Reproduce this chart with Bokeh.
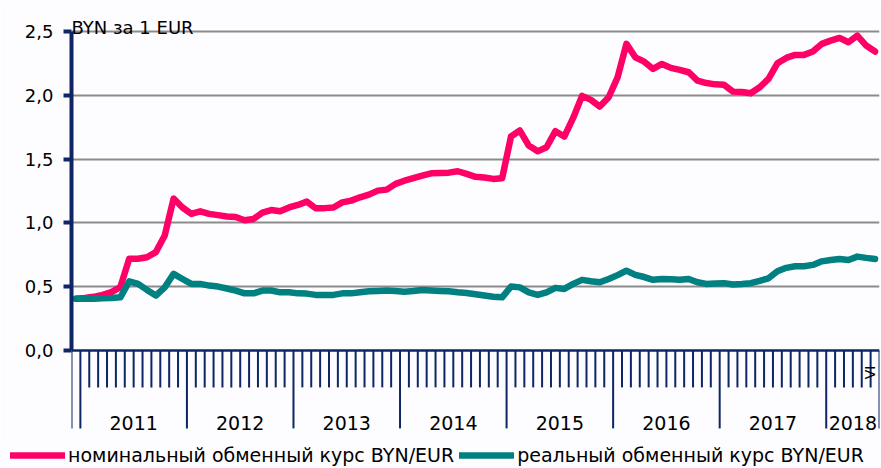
import math
from bokeh.plotting import figure
from bokeh.layouts import column
from bokeh.models import Range1d, FixedTicker, CustomJSTickFormatter, Legend, LegendItem, Label
from bokeh.core.properties import value
from bokeh.embed import file_html
from bokeh.resources import INLINE

# ---------------- data ----------------
start_year, start_month = 2010, 12
years = [2011, 2012, 2013, 2014, 2015, 2016, 2017, 2018]
roman = ["I", "II", "III", "IV", "V", "VI", "VII", "VIII", "IX", "X", "XI", "XII"]
y_ticks = [0.0, 0.5, 1.0, 1.5, 2.0, 2.5]
unit_label = "BYN за 1 EUR"
name_nominal = "номинальный обменный курс BYN/EUR"
name_real = "реальный обменный курс BYN/EUR"

nominal = [
    0.405, 0.41, 0.42, 0.435, 0.457, 0.496, 0.718, 0.718, 0.73, 0.77, 0.90, 1.19, 1.12,
    1.07, 1.09, 1.07, 1.06, 1.05, 1.045, 1.02, 1.03, 1.08, 1.10, 1.09, 1.12, 1.14,
    1.166, 1.114, 1.115, 1.12, 1.16, 1.174, 1.20, 1.221, 1.252, 1.26, 1.305,
    1.33, 1.35, 1.37, 1.388, 1.39, 1.393, 1.404, 1.383, 1.36, 1.355, 1.344, 1.349,
    1.676, 1.723, 1.605, 1.56, 1.592, 1.718, 1.676, 1.822, 1.995, 1.963, 1.911, 1.984,
    2.14, 2.402, 2.297, 2.263, 2.206, 2.245, 2.214, 2.198, 2.18, 2.115, 2.095, 2.085,
    2.081, 2.028, 2.025, 2.015, 2.062, 2.128, 2.25, 2.292, 2.316, 2.316, 2.342, 2.402,
    2.428, 2.449, 2.415, 2.467, 2.389, 2.342,
]
real = [
    0.404, 0.404, 0.404, 0.408, 0.411, 0.416, 0.541, 0.521, 0.474, 0.43, 0.494, 0.60, 0.56,
    0.521, 0.521, 0.508, 0.50, 0.485, 0.469, 0.447, 0.447, 0.469, 0.469, 0.455, 0.455, 0.447,
    0.445, 0.435, 0.435, 0.435, 0.447, 0.447, 0.455, 0.463, 0.466, 0.469, 0.465,
    0.46, 0.465, 0.474, 0.47, 0.466, 0.463, 0.455, 0.45, 0.44, 0.43, 0.42, 0.416,
    0.50, 0.494, 0.455, 0.435, 0.455, 0.49, 0.482, 0.521, 0.553, 0.542, 0.534, 0.56,
    0.59, 0.625, 0.592, 0.575, 0.553, 0.56, 0.557, 0.553, 0.56, 0.534, 0.521, 0.524,
    0.527, 0.516, 0.52, 0.527, 0.545, 0.565, 0.62, 0.647, 0.659, 0.659, 0.67, 0.698,
    0.709, 0.717, 0.709, 0.735, 0.725, 0.717,
]

n = len(nominal)
months = [((start_month - 1 + k) % 12) + 1 for k in range(n)]
month_year = [start_year + (start_month - 1 + k) // 12 for k in range(n)]
xc = [k + 0.5 for k in range(n)]

# ---------------- styling ----------------
FONT = "DejaVu Sans"
NAVY = "#0E2566"
PINK = "#FF0066"
TEAL = "#008080"
GRID = "#8C8C8C"
BG = "#FDFDFF"
W = 881
MAIN_H = 444
LEG_H = 24
PX_PER_UNIT = 127.6
ZERO_Y = 349.9
Y_TOP = ZERO_Y / PX_PER_UNIT
Y_BOT = -(MAIN_H - ZERO_Y) / PX_PER_UNIT

p = figure(width=W, height=MAIN_H, output_backend="svg", toolbar_location=None,
           title=None, x_axis_type=None,
           x_range=Range1d(0, n), y_range=Range1d(Y_BOT, Y_TOP),
           min_border_left=71, min_border_right=2, min_border_top=0, min_border_bottom=0)
p.frame_align = False
p.outline_line_color = None
p.background_fill_color = BG
p.border_fill_color = BG

# y axis
ax = p.yaxis[0]
ax.ticker = FixedTicker(ticks=y_ticks)
ax.bounds = (y_ticks[0], y_ticks[-1])
ax.formatter = CustomJSTickFormatter(code="return tick.toFixed(1).replace('.', ',');")
ax.axis_line_color = NAVY
ax.axis_line_width = 4
ax.major_tick_line_color = NAVY
ax.major_tick_line_width = 4
ax.major_tick_out = 8
ax.major_tick_in = 0
ax.minor_tick_line_color = None
ax.major_label_text_font = FONT
ax.major_label_text_font_size = "18px"
ax.major_label_text_color = "#000000"
ax.major_label_standoff = 10

p.xgrid.visible = False
p.ygrid.ticker = FixedTicker(ticks=y_ticks[1:])
p.ygrid.grid_line_color = GRID
p.ygrid.grid_line_width = 2

# category axis drawn from the month list
short_len = 37 / PX_PER_UNIT
long_len = 78 / PX_PER_UNIT
long_b = [0] + [k for k in range(n) if months[k] == 1] + [n]
short_b = [b for b in range(n + 1) if b not in long_b]
p.segment(x0=short_b, y0=[0] * len(short_b), x1=short_b, y1=[-short_len] * len(short_b),
          line_color=NAVY, line_width=2)
p.segment(x0=long_b, y0=[0] * len(long_b), x1=long_b, y1=[-long_len] * len(long_b),
          line_color=NAVY, line_width=2)
p.segment(x0=[0], y0=[0], x1=[n], y1=[0], line_color=NAVY, line_width=2.5)

year_x = []
for yv in years:
    idx = [k for k in range(n) if month_year[k] == yv]
    year_x.append((idx[0] + idx[-1] + 1) / 2)
p.text(x=year_x, y=[-73 / PX_PER_UNIT] * len(years), text=[str(y) for y in years],
       text_font=value(FONT), text_font_size="19px", text_align="center",
       text_baseline="alphabetic", text_color="#000000")

p.text(x=[xc[-1]], y=[-22 / PX_PER_UNIT], text=[roman[months[-1] - 1]], angle=math.pi / 2,
       x_offset=-5, text_font=value(FONT), text_font_size="14px", text_align="center",
       text_baseline="middle", text_color="#000000")

# series
r1 = p.line(xc, nominal, line_color=PINK, line_width=6.5, line_join="round", line_cap="round")
r2 = p.line(xc, real, line_color=TEAL, line_width=6.5, line_join="round", line_cap="round")

p.add_layout(Label(x=0, y=(ZERO_Y - 26.7) / PX_PER_UNIT, text=unit_label,
                   text_font=FONT, text_font_size="18px", text_baseline="alphabetic",
                   text_color="#000000"))

# legend strip
pl = figure(width=W, height=LEG_H, output_backend="svg", toolbar_location=None,
            title=None, x_axis_type=None, y_axis_type=None,
            x_range=Range1d(0, W), y_range=Range1d(0, LEG_H),
            min_border_left=0, min_border_right=0, min_border_top=0, min_border_bottom=0)
pl.frame_align = False
pl.outline_line_color = None
pl.background_fill_color = BG
pl.border_fill_color = BG
pl.grid.visible = False
l1 = pl.line(x=[-1.0], y=[-1.0], line_color=PINK, line_width=6.5, line_cap="round")
l2 = pl.line(x=[-1.0], y=[-1.0], line_color=TEAL, line_width=6.5, line_cap="round")
legend = Legend(items=[LegendItem(label=name_nominal, renderers=[l1]),
                       LegendItem(label=name_real, renderers=[l2])],
                orientation="horizontal", location=(10, 2),
                glyph_width=55, glyph_height=20, label_height=20, label_standoff=3,
                spacing=5, padding=0, margin=0,
                label_text_font=FONT, label_text_font_size="19px", label_text_color="#000000",
                border_line_color=None, background_fill_alpha=0)
pl.add_layout(legend)

layout = column(p, pl, spacing=0)
open("out.html", "w").write(file_html(layout, INLINE))
